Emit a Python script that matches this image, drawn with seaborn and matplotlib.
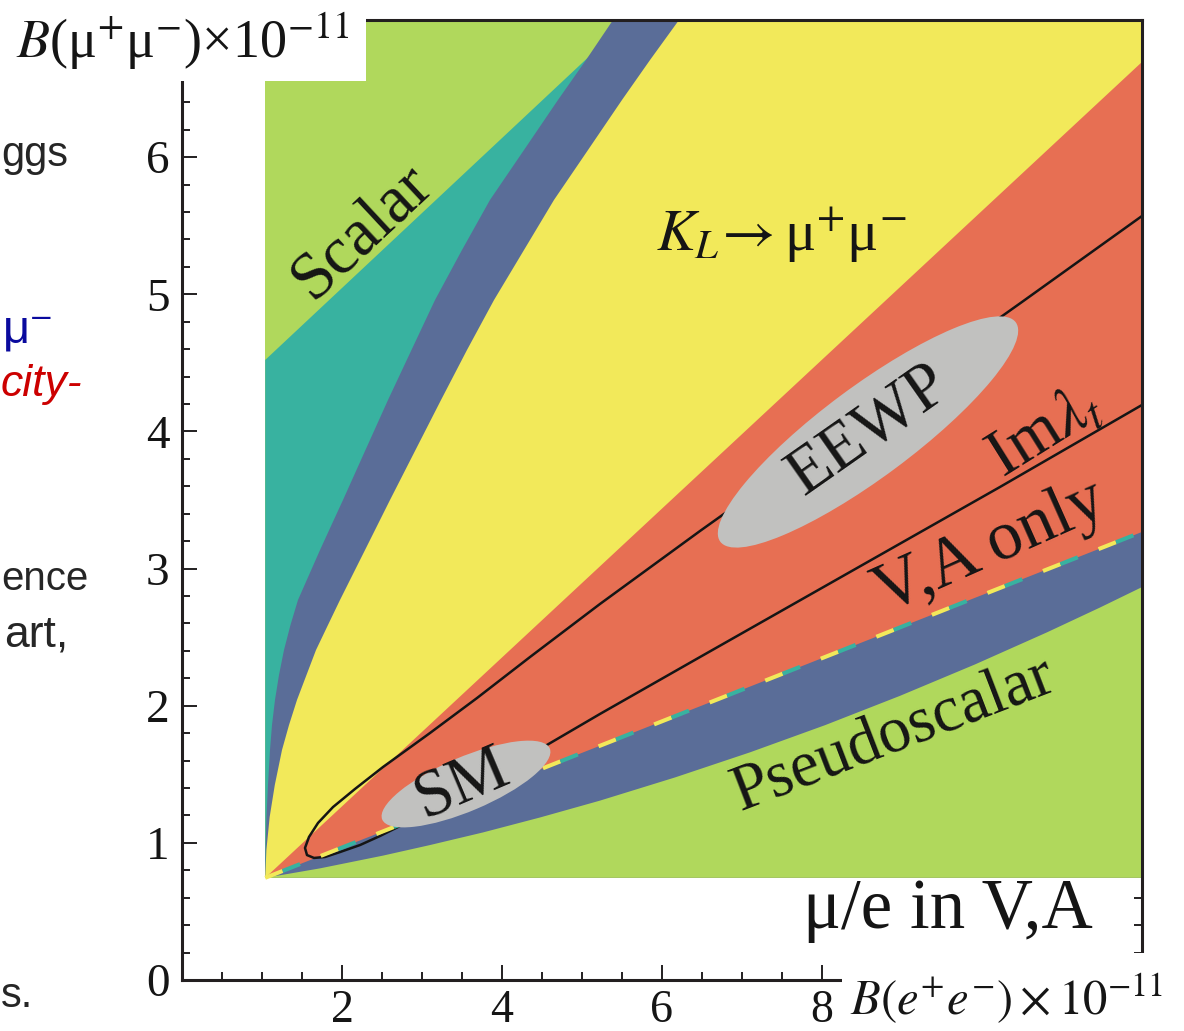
import numpy as np
import pandas as pd
import matplotlib
matplotlib.use("Agg")
import matplotlib.pyplot as plt
import seaborn as sns
from matplotlib.patches import Ellipse, Rectangle
from matplotlib.transforms import ScaledTranslation
from matplotlib.ticker import MultipleLocator

# ---------------- data ----------------
region_x = [1.04, 12.0]
region_y = [0.745, 7.0]

scalar_edge_x = [1.04, 4.975, 5.575]
scalar_edge_y = [4.521, 6.672, 7.0]

teal_blue_x = [1.04, 1.04375, 1.05625, 1.075, 1.1, 1.125, 1.1625, 1.2125, 1.275, 1.35625,
               1.45, 1.5875, 1.725, 1.86875, 2.0125, 2.29375, 2.575, 2.86875, 3.1625,
               3.5, 3.85, 4.275, 4.7, 5.05, 5.3875]
teal_blue_y = [0.745, 0.948, 1.189, 1.422, 1.677, 1.859, 2.042, 2.224, 2.406, 2.589,
               2.771, 2.953, 3.135, 3.318, 3.500, 3.865, 4.229, 4.594, 4.958,
               5.323, 5.688, 6.052, 6.417, 6.708, 7.0]

blue_yellow_x = [1.04, 1.055, 1.096, 1.16, 1.25, 1.3375, 1.4375, 1.556, 1.675, 1.825,
                 1.975, 2.2875, 2.6, 2.919, 3.2375, 3.5625, 3.9, 4.275, 4.65, 5.075,
                 5.5, 5.85, 6.2125]
blue_yellow_y = [0.745, 0.948, 1.189, 1.422, 1.677, 1.859, 2.042, 2.224, 2.406, 2.589,
                 2.771, 3.135, 3.500, 3.865, 4.229, 4.594, 4.958, 5.323, 5.688, 6.052,
                 6.417, 6.708, 7.0]

yellow_red_x = [1.04, 12.0]
yellow_red_y = [0.745, 6.694]

va_edge_x = [1.04, 12.0]
va_edge_y = [0.745, 3.267]

pseudo_x = [1.04, 1.725, 2.5125, 3.1, 3.7625, 4.475, 5.225, 6.1625, 7.1, 8.0375,
            8.975, 9.9125, 10.8125, 11.475, 12.0]
pseudo_y = [0.745, 0.814, 0.907, 0.984, 1.076, 1.185, 1.308, 1.477, 1.660, 1.858,
            2.072, 2.301, 2.535, 2.716, 2.865]

imlam_x = [12.0, 10.5, 8.475, 6.475, 5.225, 4.35, 3.6875, 3.1, 2.5125, 2.1625, 1.8875,
           1.70, 1.5875, 1.5375, 1.5625, 1.65, 1.7875, 1.975, 2.225, 2.475, 2.725,
           3.1, 3.725, 4.5625, 5.225, 6.475, 8.35, 10.225, 12.0]
imlam_y = [5.571, 4.944, 4.105, 3.274, 2.742, 2.355, 2.056, 1.801, 1.553, 1.393, 1.261,
           1.145, 1.043, 0.963, 0.911, 0.890, 0.897, 0.933, 0.984, 1.050, 1.123,
           1.240, 1.444, 1.714, 1.940, 2.355, 2.975, 3.595, 4.193]

x_ticks = [0, 2, 4, 6, 8, 10, 12]
x_ticklabels = ["", "2", "4", "6", "8", "", ""]
y_ticks = [0, 1, 2, 3, 4, 5, 6, 7]
y_ticklabels = ["0", "1", "2", "3", "4", "5", "6", ""]

# ---------------- style ----------------
sns.set_theme(style="ticks")
plt.rcParams["font.family"] = ["Liberation Serif", "DejaVu Serif"]
plt.rcParams["mathtext.fontset"] = "stix"
plt.rcParams["lines.scale_dashes"] = False

GREEN = "#b0d85c"
TEAL = "#38b2a0"
BLUE = "#5a6d98"
YELLOW = "#f2e95a"
RED = "#e76f53"
GRAY = "#c1c1bf"
INK = "#231f20"

W, H = 1184, 1031
fig = plt.figure(figsize=(W / 100, H / 100), dpi=100)
ax = fig.add_axes([182 / W, 51 / H, 960 / W, 960 / H])
ax.set_xlim(0, 12)
ax.set_ylim(0, 7)

x0, x1 = region_x
y0, y1 = region_y

ax.fill([x0, x1, x1, x0], [y0, y0, y1, y1], color=GREEN, lw=0, zorder=1)
ax.fill([x0] + scalar_edge_x + [x1, x1], [y0] + scalar_edge_y + [y1, y0], color=TEAL, lw=0, zorder=2)
ax.fill(teal_blue_x + [x1, x1], teal_blue_y + [y1, y0], color=BLUE, lw=0, zorder=3)
ax.fill(blue_yellow_x + [x1, x1], blue_yellow_y + [y1, y0], color=YELLOW, lw=0, zorder=4)
ax.fill(yellow_red_x + [x1], yellow_red_y + [y0], color=RED, lw=0, zorder=5)
ax.fill(va_edge_x + [x1], va_edge_y + [y0], color=BLUE, lw=0, zorder=6)
ax.fill(pseudo_x + [x1], pseudo_y + [y0], color=GREEN, lw=0, zorder=7)

# Im lambda_t contour
sns.lineplot(x=imlam_x, y=imlam_y, sort=False, estimator=None, color="#151515",
             linewidth=1.8, ax=ax, zorder=8)

# dashed V,A boundary (yellow/teal)
on, off = 13.5, 29.5
ax.plot(va_edge_x, va_edge_y, color=YELLOW, lw=2.9, linestyle=(0, (on, off)),
        dash_capstyle="butt", zorder=9)
ax.plot(va_edge_x, va_edge_y, color=TEAL, lw=2.9, linestyle=(off, (on, off)),
        dash_capstyle="butt", zorder=9)

def add_ellipse(cx, cy, a_px, b_px, ang):
    tr = fig.dpi_scale_trans + ScaledTranslation(cx, cy, ax.transData)
    e = Ellipse((0, 0), width=2 * a_px / 100, height=2 * b_px / 100, angle=ang,
                transform=tr, facecolor=GRAY, edgecolor="none", zorder=10)
    ax.add_artist(e)

add_ellipse(3.55, 1.429, 91, 27, 23)
add_ellipse(8.575, 3.996, 184, 45.5, 36.6)

lab = dict(color="#151515", ha="center", va="center", rotation_mode="anchor", zorder=12)
ax.text(2.25, 5.454, "Scalar", fontsize=48, rotation=43, **lab)
ax.text(7.49, 5.43, "$K_L\\!\\rightarrow$μ$^{+}$μ$^{-}$", fontsize=42, **lab)
ax.text(8.575, 4.011, "EEWP", fontsize=48, rotation=35, **lab)
ax.text(10.79, 3.996, "Im$\\lambda_t$", fontsize=48, rotation=32, **lab)
ax.text(10.1, 3.15, "V,A only", fontsize=50, rotation=24, **lab)
ax.text(8.89, 1.786, "Pseudoscalar", fontsize=47, rotation=21, **lab)
ax.text(3.5, 1.422, "SM", fontsize=48, rotation=23, **lab)
ax.text(9.575, 0.379, "μ/e in V,A", fontsize=51, color="#151515", ha="center",
        va="baseline", zorder=12)

for s in ax.spines.values():
    s.set_linewidth(2.2)
    s.set_color(INK)
    s.set_zorder(20)
ax.set_xticks(x_ticks)
ax.set_xticklabels(x_ticklabels)
ax.set_yticks(y_ticks)
ax.set_yticklabels(y_ticklabels)
ax.xaxis.set_minor_locator(MultipleLocator(0.5))
ax.yaxis.set_minor_locator(MultipleLocator(0.2))
ax.tick_params(which="both", direction="in", top=True, right=True, color=INK,
               width=1.4, zorder=20)
ax.tick_params(which="major", length=11)
ax.tick_params(which="minor", length=6)
ax.tick_params(axis="y", which="major", labelsize=34, pad=9, labelcolor="#151515")
ax.tick_params(axis="x", which="major", labelsize=33, pad=7, labelcolor="#151515")
ax.grid(False)
ax.set_facecolor("white")

fig.add_artist(Rectangle((0, 1 - 81 / H), 366 / W, 81 / H, transform=fig.transFigure,
                         facecolor="white", edgecolor="none", zorder=30))
fig.add_artist(Rectangle((842 / W, 0), (W - 842) / W, 78 / H, transform=fig.transFigure,
                         facecolor="white", edgecolor="none", zorder=30))
fig.text(16 / W, 1 - 58 / H, "$B$(μ$^{+}$μ$^{-}$)×10$^{-11}$", fontsize=39,
         ha="left", va="baseline", color="#151515", zorder=31)
fig.text(850 / W, 1 - 1015 / H, "$B(e^{+}e^{-})\\times10^{-11}$", fontsize=35,
         ha="left", va="baseline", color="#151515", zorder=31)

sans = ["Liberation Sans", "DejaVu Sans"]
fig.text(1 / W, 1 - 166 / H, "ggs", fontsize=30, family=sans, ha="left", va="baseline")
fig.text(52 / W, 1 - 343 / H, "μ$^{-}$", fontsize=34, family=sans, ha="right",
         va="baseline", color="#0a0a9e")
fig.text(82 / W, 1 - 396 / H, "city-", fontsize=32, family=sans, style="italic",
         ha="right", va="baseline", color="#cc0000")
fig.text(1 / W, 1 - 590 / H, "ence", fontsize=29, family=sans, ha="left", va="baseline")
fig.text(68 / W, 1 - 647 / H, "art,", fontsize=32, family=sans, ha="right", va="baseline")
fig.text(1 / W, 1 - 1007 / H, "s.", fontsize=30, family=sans, ha="left", va="baseline")

fig.savefig("out.png", dpi=100)
